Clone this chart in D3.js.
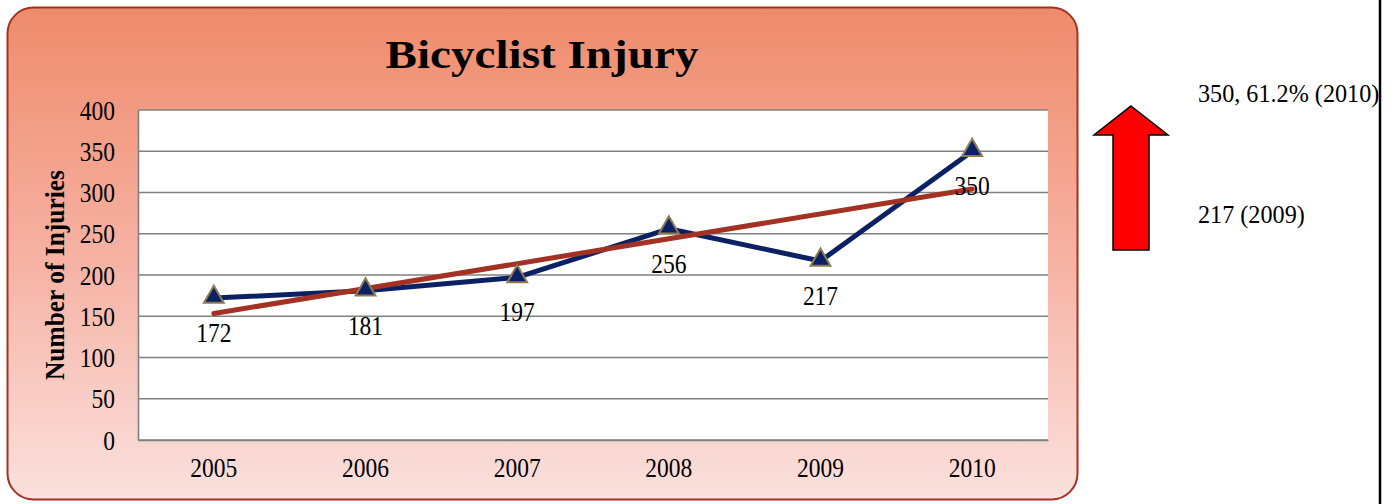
<!DOCTYPE html>
<html><head><meta charset="utf-8">
<script src="https://cdn.jsdelivr.net/npm/d3@7"></script>
<style>
html,body{margin:0;padding:0;background:#fff;}
text{font-family:"Liberation Serif","Times New Roman",serif;}
</style></head>
<body>
<svg id="c" width="1396" height="504"></svg>
<script>
const years = ["2005","2006","2007","2008","2009","2010"];
const injuries = [172,181,197,256,217,350];
const yTicks = [0,50,100,150,200,250,300,350,400];
const titleText = "Bicyclist Injury";
const yTitle = "Number of Injuries";
const notes = ["350, 61.2% (2010)", "217 (2009)"];

const svg = d3.select("#c");
const defs = svg.append("defs");
const grad = defs.append("linearGradient").attr("id","bg").attr("x1",0).attr("y1",0).attr("x2",0).attr("y2",1);
grad.append("stop").attr("offset","0%").attr("stop-color","#ef8b6b");
grad.append("stop").attr("offset","50%").attr("stop-color","#f6b1a2");
grad.append("stop").attr("offset","100%").attr("stop-color","#fbe1de");

// condensed text helper: shrink natural width
function condense(sel, k){
  sel.each(function(){
    const w = this.getComputedTextLength();
    d3.select(this).attr("textLength", w*k).attr("lengthAdjust","spacingAndGlyphs");
  });
}

// panel
svg.append("rect").attr("x",7.5).attr("y",7.5).attr("width",1070).attr("height",492)
  .attr("rx",26).attr("ry",26).attr("fill","url(#bg)").attr("stroke","#a33222").attr("stroke-width",2);

svg.append("text").attr("x",542).attr("y",68).attr("text-anchor","middle")
  .attr("font-weight","bold").attr("font-size",40)
  .attr("textLength",313).attr("lengthAdjust","spacingAndGlyphs")
  .text(titleText);

const x = d3.scaleBand().domain(years).range([138,1048]);
const y = d3.scaleLinear().domain([0,400]).range([440,110]);

svg.append("rect").attr("x",138).attr("y",110).attr("width",910).attr("height",330).attr("fill","#fff");

// gridlines
svg.append("g").selectAll("line").data(yTicks).join("line")
  .attr("x1",138).attr("x2",1048).attr("y1",d=>y(d)).attr("y2",d=>y(d))
  .attr("stroke","#808080").attr("stroke-width",1.6);

const FS = 27, K = 0.87;

// axes
const yAxis = svg.append("g").attr("transform","translate(138,0)")
  .call(d3.axisLeft(y).tickValues(yTicks).tickSize(0).tickPadding(23));
yAxis.select(".domain").attr("stroke","#808080").attr("stroke-width",1.6);
yAxis.selectAll("text").attr("font-size",FS).attr("fill","#000")
  .attr("font-family","'Liberation Serif',serif").attr("dy","0.34em").call(condense,K);

const xAxis = svg.append("g").attr("transform","translate(0,440)")
  .call(d3.axisBottom(x).tickSize(0).tickPadding(18));
xAxis.select(".domain").attr("stroke","#808080").attr("stroke-width",1.6);
xAxis.selectAll("text").attr("font-size",FS).attr("fill","#000")
  .attr("font-family","'Liberation Serif',serif").call(condense,K);

svg.append("text").attr("transform","translate(64,275) rotate(-90)")
  .attr("text-anchor","middle").attr("font-weight","bold").attr("font-size",27)
  .attr("textLength",210).attr("lengthAdjust","spacingAndGlyphs")
  .text(yTitle);

const cx = d => x(d) + x.bandwidth()/2;

// data line
const line = d3.line().x((d,i)=>cx(years[i])).y(d=>y(d));
svg.append("path").datum(injuries).attr("d",line).attr("fill","none")
  .attr("stroke","#0b2163").attr("stroke-width",5).attr("stroke-linejoin","round");

// trend line (least squares from data)
const n = injuries.length;
const xs = injuries.map((d,i)=>i+1);
const mx = d3.mean(xs), my = d3.mean(injuries);
const slope = d3.sum(xs.map((v,i)=>(v-mx)*(injuries[i]-my))) / d3.sum(xs.map(v=>(v-mx)*(v-mx)));
const icpt = my - slope*mx;
const trend = [icpt+slope*1, icpt+slope*n];
svg.append("line")
  .attr("x1",cx(years[0])).attr("y1",y(trend[0]))
  .attr("x2",cx(years[n-1])).attr("y2",y(trend[1]))
  .attr("stroke","#a33222").attr("stroke-width",5).attr("stroke-linecap","round");

// markers
const tri = d3.symbol().type(d3.symbolTriangle).size(170);
svg.append("g").selectAll("path").data(injuries).join("path")
  .attr("transform",(d,i)=>`translate(${cx(years[i])},${y(d)-1})`)
  .attr("d",tri).attr("fill","#0b2163").attr("stroke","#8c7b55").attr("stroke-width",2);

// data labels
svg.append("g").selectAll("text").data(injuries).join("text")
  .attr("x",(d,i)=>cx(years[i])).attr("y",d=>y(d)+44)
  .attr("text-anchor","middle").attr("font-size",FS).text(d=>d).call(condense,K);

// right side arrow
const arrowPts = [[1131,106],[1168,135],[1149,135],[1149,250],[1113,250],[1113,135],[1094,135]];
svg.append("polygon").attr("points",arrowPts.map(p=>p.join(",")).join(" "))
  .attr("fill","#ff0000").attr("stroke","#000").attr("stroke-width",1.5);

svg.append("text").attr("x",1198).attr("y",102).attr("font-size",26).text(notes[0]).call(condense,0.93);
svg.append("text").attr("x",1198).attr("y",223).attr("font-size",26).text(notes[1]).call(condense,0.93);

svg.append("line").attr("x1",1380).attr("x2",1380).attr("y1",0).attr("y2",504)
  .attr("stroke","#000").attr("stroke-width",2.5);
</script>
</body></html>
